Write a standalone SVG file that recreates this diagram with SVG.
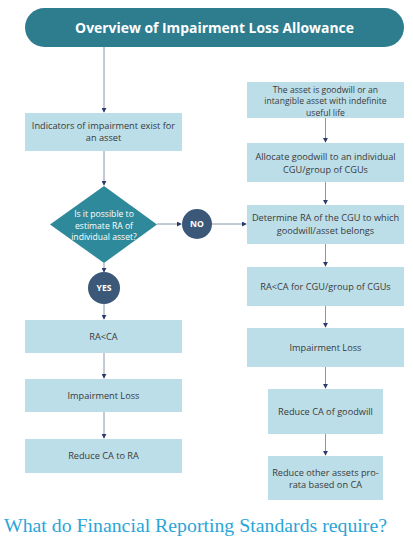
<svg xmlns="http://www.w3.org/2000/svg" width="413" height="546" viewBox="0 0 413 546">
<defs>
<marker id="ah" viewBox="0 0 6 6" refX="5" refY="3" markerWidth="5" markerHeight="5" orient="auto" markerUnits="userSpaceOnUse">
<path d="M0,0 L6,3 L0,6 z" fill="#2a3b6b"/>
</marker>
<style>
.box{fill:#bcdee8;}
.t{font-family:"Open Sans","Noto Sans",sans-serif;font-size:9.2px;fill:#3a3a3a;text-anchor:middle;}
.w{font-family:"Open Sans","Noto Sans",sans-serif;font-size:8.6px;fill:#ffffff;text-anchor:middle;font-weight:bold;}
.c{fill:#3b5878;}
.ln{stroke:#8896a6;stroke-width:1;fill:none;marker-end:url(#ah);}
</style>
</defs>
<rect width="413" height="546" fill="#ffffff"/>
<g id="title">
<rect x="25" y="8" width="379" height="39" rx="19.5" fill="#2d7d8f"/>
<text x="214.5" y="32.5" style="font-family:'Open Sans','Noto Sans',sans-serif;font-size:13.9px;font-weight:bold;fill:#ffffff;text-anchor:middle;">Overview of Impairment Loss Allowance</text>
</g>
<g id="connectors">
<line class="ln" x1="104" y1="47" x2="104" y2="112"/>
<line class="ln" x1="104" y1="151" x2="104" y2="185"/>
<line class="ln" x1="157" y1="224" x2="181" y2="224"/>
<line class="ln" x1="104" y1="263" x2="104" y2="272"/>
<line class="ln" x1="104" y1="304" x2="104" y2="319"/>
<line class="ln" x1="104" y1="353" x2="104" y2="378"/>
<line class="ln" x1="104" y1="412" x2="104" y2="438"/>
<line class="ln" x1="212" y1="224" x2="246" y2="224"/>
<line class="ln" x1="325.5" y1="118" x2="325.5" y2="142"/>
<line class="ln" x1="325.5" y1="182" x2="325.5" y2="204"/>
<line class="ln" x1="325.5" y1="244" x2="325.5" y2="266"/>
<line class="ln" x1="325.5" y1="306" x2="325.5" y2="327"/>
<line class="ln" x1="325.5" y1="367" x2="325.5" y2="388"/>
<line class="ln" x1="325.5" y1="434" x2="325.5" y2="455"/>
</g>
<g id="indicators">
<rect class="box" x="25" y="113" width="157" height="38"/>
<text class="t" x="103.5" y="129">Indicators of impairment exist for</text>
<text class="t" x="103.5" y="141">an asset</text>
</g>
<g id="decision">
<polygon points="104,186 157,224.5 104,263 50,224.5" fill="#2e8a9b"/>
<text class="w" x="104" y="217" style="font-weight:normal">Is it possible to</text>
<text class="w" x="104" y="228.5" style="font-weight:normal">estimate RA of</text>
<text class="w" x="104" y="240" style="font-weight:normal">individual asset?</text>
</g>
<g id="no">
<circle class="c" cx="197" cy="224" r="15"/>
<text class="w" x="197" y="227">NO</text>
</g>
<g id="yes">
<circle class="c" cx="104" cy="288" r="16"/>
<text class="w" x="104" y="291">YES</text>
</g>
<g id="ra-ca">
<rect class="box" x="25" y="320" width="157" height="33"/>
<text class="t" x="103.5" y="339.5">RA&lt;CA</text>
</g>
<g id="impairment-left">
<rect class="box" x="25" y="379" width="157" height="33"/>
<text class="t" x="103.5" y="398.5">Impairment Loss</text>
</g>
<g id="reduce-left">
<rect class="box" x="25" y="439" width="157" height="34"/>
<text class="t" x="103.5" y="459">Reduce CA to RA</text>
</g>
<g id="goodwill">
<rect class="box" x="247" y="82" width="157" height="36"/>
<text class="t" x="325.5" y="92.5" style="font-size:8.6px">The asset is goodwill or an</text>
<text class="t" x="325.5" y="104.3" style="font-size:8.6px">intangible asset with indefinite</text>
<text class="t" x="325.5" y="116.1" style="font-size:8.6px">useful life</text>
</g>
<g id="allocate">
<rect class="box" x="247" y="143" width="157" height="39"/>
<text class="t" x="325.5" y="160">Allocate goodwill to an individual</text>
<text class="t" x="325.5" y="172.5">CGU/group of CGUs</text>
</g>
<g id="determine">
<rect class="box" x="247" y="205" width="157" height="39"/>
<text class="t" x="325.5" y="221">Determine RA of the CGU to which</text>
<text class="t" x="325.5" y="233.5">goodwill/asset belongs</text>
</g>
<g id="ra-ca-cgu">
<rect class="box" x="247" y="267" width="157" height="39"/>
<text class="t" x="325.5" y="289.5">RA&lt;CA for CGU/group of CGUs</text>
</g>
<g id="impairment-right">
<rect class="box" x="247" y="328" width="157" height="39"/>
<text class="t" x="325.5" y="350.5">Impairment Loss</text>
</g>
<g id="reduce-goodwill">
<rect class="box" x="268" y="389" width="115" height="45"/>
<text class="t" x="325.5" y="414.5">Reduce CA of goodwill</text>
</g>
<g id="reduce-other">
<rect class="box" x="268" y="456" width="115" height="44"/>
<text class="t" x="325.5" y="475.5">Reduce other assets pro-</text>
<text class="t" x="325.5" y="488">rata based on CA</text>
</g>
<text x="4" y="532" textLength="383" lengthAdjust="spacingAndGlyphs" style="font-family:'Liberation Serif',serif;font-size:19.5px;fill:#2aa5d8;">What do Financial Reporting Standards require?</text>
</svg>
